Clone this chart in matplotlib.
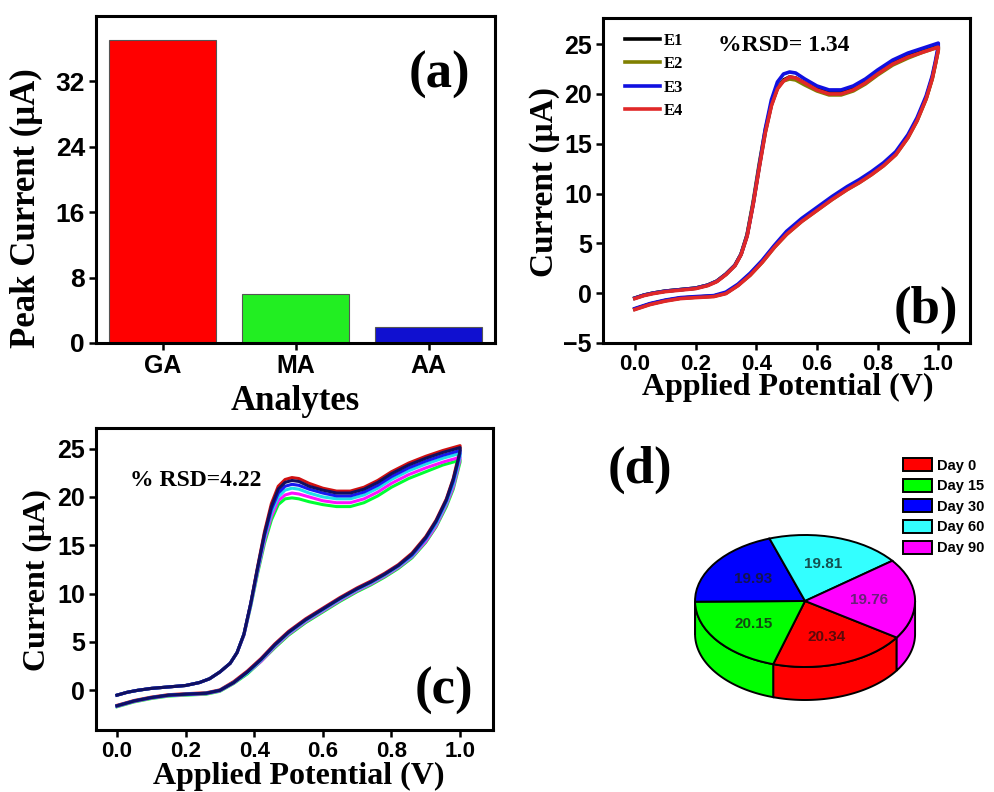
import numpy as np
import matplotlib
matplotlib.use("Agg")
import matplotlib.pyplot as plt
from matplotlib.patches import Polygon

plt.rcParams['font.family'] = ['Liberation Sans', 'DejaVu Sans']
plt.rcParams['font.weight'] = 'bold'
SERIF = ['Liberation Serif', 'DejaVu Serif']

# =========================
# data
# =========================
ANALYTES = ["GA", "MA", "AA"]
PEAK_CURRENT = [37.0, 6.0, 1.9]

# potential grids (V): forward scan 0 -> 1, reverse scan 1 -> 0
V_FWD = [0.00, 0.03, 0.06, 0.10, 0.15, 0.20, 0.24, 0.27, 0.30, 0.33, 0.35, 0.37, 0.39, 0.41, 0.43, 0.45,
         0.47, 0.49, 0.51, 0.53, 0.56, 0.60, 0.64, 0.68, 0.72, 0.76, 0.80, 0.85, 0.90, 0.95, 1.00]
V_REV = [1.00, 0.99, 0.98, 0.96, 0.93, 0.90, 0.86, 0.82, 0.78, 0.74, 0.70, 0.65, 0.60, 0.55, 0.50, 0.46,
         0.42, 0.38, 0.34, 0.30, 0.26, 0.20, 0.15, 0.10, 0.05, 0.00]

# (b) electrodes E1-E4
E_LABELS = ["E1", "E2", "E3", "E4"]
E1_FWD = [-0.5, -0.2, 0.0, 0.2, 0.35, 0.5, 0.8, 1.2, 1.9, 2.8, 3.9, 5.8, 9.0, 12.7, 16.2, 18.9,
          20.6, 21.4, 21.7, 21.6, 21.1, 20.5, 20.1, 20.1, 20.5, 21.2, 22.1, 23.1, 23.8, 24.3, 24.8]
E1_REV = [24.5, 23.0, 21.6, 19.6, 17.4, 15.7, 14.0, 12.9, 12.0, 11.2, 10.5, 9.5, 8.4, 7.3, 6.0, 4.7,
          3.2, 1.9, 0.8, 0.0, -0.3, -0.4, -0.5, -0.75, -1.1, -1.6]
E2_FWD = [-0.5, -0.2, 0.0, 0.2, 0.35, 0.5, 0.8, 1.2, 1.9, 2.8, 3.9, 5.9, 9.2, 13.0, 16.4, 19.0,
          20.6, 21.3, 21.5, 21.4, 20.9, 20.3, 19.9, 19.9, 20.3, 21.0, 21.9, 22.9, 23.6, 24.2, 24.7]
E2_REV = [24.4, 22.9, 21.5, 19.5, 17.3, 15.6, 13.9, 12.8, 11.9, 11.1, 10.4, 9.4, 8.3, 7.2, 5.9, 4.6,
          3.1, 1.8, 0.8, 0.0, -0.3, -0.4, -0.5, -0.75, -1.1, -1.6]
E3_FWD = [-0.5, -0.2, 0.0, 0.2, 0.35, 0.5, 0.8, 1.2, 1.9, 2.8, 3.9, 5.8, 9.0, 12.8, 16.5, 19.4,
          21.2, 22.0, 22.2, 22.1, 21.5, 20.8, 20.4, 20.4, 20.8, 21.5, 22.4, 23.4, 24.1, 24.6, 25.1]
E3_REV = [24.8, 23.2, 21.8, 19.8, 17.6, 15.9, 14.2, 13.1, 12.2, 11.4, 10.7, 9.7, 8.6, 7.5, 6.2, 4.8,
          3.3, 2.0, 0.9, 0.1, -0.25, -0.35, -0.45, -0.7, -1.05, -1.55]
E4_FWD = [-0.55, -0.25, -0.05, 0.15, 0.3, 0.45, 0.75, 1.15, 1.85, 2.75, 3.85, 5.7, 8.9, 12.6, 16.1, 18.8,
          20.5, 21.3, 21.7, 21.6, 21.1, 20.4, 20.0, 20.0, 20.4, 21.1, 22.0, 23.0, 23.7, 24.2, 24.7]
E4_REV = [24.4, 22.9, 21.5, 19.5, 17.3, 15.6, 13.9, 12.8, 11.9, 11.1, 10.4, 9.4, 8.3, 7.2, 5.9, 4.6,
          3.1, 1.8, 0.75, -0.05, -0.35, -0.45, -0.55, -0.8, -1.15, -1.65]

# (c) stability scans
C_RED_FWD = [-0.5, -0.2, 0.0, 0.2, 0.35, 0.5, 0.8, 1.2, 1.9, 2.8, 3.9, 5.8, 9.0, 12.8, 16.4, 19.3,
             21.1, 21.8, 22.0, 21.9, 21.4, 20.9, 20.6, 20.6, 21.0, 21.7, 22.6, 23.5, 24.2, 24.8, 25.3]
C_RED_REV = [25.0, 23.4, 21.9, 19.8, 17.6, 15.9, 14.2, 13.0, 12.1, 11.3, 10.6, 9.6, 8.5, 7.4, 6.1, 4.8,
             3.3, 2.0, 0.9, 0.05, -0.25, -0.35, -0.45, -0.7, -1.05, -1.55]
C_NAVY_FWD = [-0.5, -0.2, 0.0, 0.2, 0.35, 0.5, 0.8, 1.2, 1.9, 2.8, 3.9, 5.8, 9.0, 12.7, 16.2, 19.0,
              20.8, 21.5, 21.7, 21.6, 21.1, 20.7, 20.4, 20.4, 20.8, 21.5, 22.4, 23.3, 24.0, 24.6, 25.1]
C_NAVY_REV = [24.8, 23.2, 21.8, 19.7, 17.5, 15.8, 14.1, 12.9, 12.0, 11.2, 10.5, 9.5, 8.4, 7.3, 6.0, 4.7,
              3.2, 1.9, 0.8, 0.0, -0.3, -0.4, -0.5, -0.75, -1.1, -1.6]
C_BLUE_FWD = [-0.5, -0.2, 0.0, 0.2, 0.35, 0.5, 0.8, 1.2, 1.9, 2.8, 3.9, 5.8, 9.0, 12.6, 16.0, 18.7,
              20.4, 21.1, 21.3, 21.2, 20.8, 20.4, 20.1, 20.1, 20.5, 21.2, 22.1, 23.0, 23.7, 24.3, 24.8]
C_BLUE_REV = [24.5, 23.0, 21.6, 19.6, 17.4, 15.7, 14.0, 12.9, 12.0, 11.2, 10.5, 9.5, 8.4, 7.3, 6.0, 4.7,
              3.2, 1.9, 0.8, 0.0, -0.3, -0.4, -0.5, -0.75, -1.1, -1.6]
C_CYAN_FWD = [-0.5, -0.2, 0.0, 0.2, 0.35, 0.5, 0.8, 1.2, 1.9, 2.8, 3.9, 5.8, 8.9, 12.5, 15.8, 18.4,
              20.0, 20.7, 20.9, 20.8, 20.4, 20.0, 19.8, 19.8, 20.2, 20.9, 21.8, 22.7, 23.4, 24.0, 24.5]
C_CYAN_REV = [24.2, 22.7, 21.3, 19.4, 17.2, 15.6, 13.9, 12.8, 11.9, 11.1, 10.4, 9.4, 8.3, 7.2, 5.9, 4.6,
              3.1, 1.8, 0.8, 0.0, -0.3, -0.4, -0.5, -0.75, -1.1, -1.6]
C_MAG_FWD = [-0.5, -0.2, 0.0, 0.2, 0.35, 0.5, 0.8, 1.2, 1.9, 2.8, 3.9, 5.7, 8.8, 12.3, 15.5, 18.0,
             19.6, 20.2, 20.4, 20.3, 20.0, 19.6, 19.4, 19.4, 19.8, 20.5, 21.4, 22.3, 23.0, 23.6, 24.1]
C_MAG_REV = [23.9, 22.4, 21.0, 19.2, 17.0, 15.4, 13.8, 12.7, 11.8, 11.0, 10.3, 9.3, 8.2, 7.1, 5.8, 4.5,
             3.0, 1.8, 0.75, -0.05, -0.35, -0.45, -0.55, -0.8, -1.15, -1.65]
C_GREEN_FWD = [-0.5, -0.2, 0.0, 0.2, 0.35, 0.5, 0.8, 1.2, 1.9, 2.8, 3.9, 5.7, 8.7, 12.1, 15.2, 17.6,
               19.2, 19.8, 19.9, 19.8, 19.5, 19.2, 19.0, 19.0, 19.4, 20.1, 21.0, 21.9, 22.6, 23.3, 23.8]
C_GREEN_REV = [23.6, 22.2, 20.8, 19.0, 16.9, 15.3, 13.7, 12.6, 11.7, 10.9, 10.2, 9.2, 8.1, 7.0, 5.7, 4.4,
               3.0, 1.7, 0.7, -0.1, -0.4, -0.5, -0.6, -0.85, -1.2, -1.7]

# (d) pie
DAYS = ["Day 0", "Day 15", "Day 30", "Day 60", "Day 90"]
DAY_VALUES = [20.34, 20.15, 19.93, 19.81, 19.76]

# =========================
# styles
# =========================
BAR_COLORS = ['#ff0000', '#22ee22', '#1010d0']
E_COLORS = ['black', '#808000', '#1010e0', '#e02828']
C_COLORS = ['#d01010', '#00ff33', '#ff10ff', '#20e0e8', '#1818f0', '#101060']
PIE_COLORS = ['#ff0000', '#00ff00', '#0000ff', '#33ffff', '#ff00ff']
PIE_TEXT = ['#5a0a0a', '#124a12', '#141450', '#145050', '#6a207a']

LW = 2.6
TICK_FS_Y = 18
TICK_FS_X = 16


def style_axes(ax, xfs, yfs):
    for s in ax.spines.values():
        s.set_linewidth(2.2)
    ax.tick_params(direction='out', length=5, width=1.8, pad=3)
    ax.tick_params(axis='x', labelsize=xfs)
    ax.tick_params(axis='y', labelsize=yfs)


fig = plt.figure(figsize=(9.95, 7.92), dpi=100)

# ---------- (a) ----------
ax_a = fig.add_axes([0.0965, 0.567, 0.401, 0.413])
xa = np.arange(len(ANALYTES))
ax_a.bar(xa, PEAK_CURRENT, width=0.8, color=BAR_COLORS, edgecolor='#555555', linewidth=0.8)
ax_a.set_xlim(-0.5, 2.5)
ax_a.set_ylim(0, 40)
ax_a.set_xticks(xa)
ax_a.set_xticklabels(ANALYTES)
ax_a.set_yticks([0, 8, 16, 24, 32])
style_axes(ax_a, 18, 19)
ax_a.set_ylabel("Peak Current (μA)", family=SERIF, fontsize=25, fontweight='bold')
ax_a.yaxis.set_label_coords(-0.133, 0.413)
ax_a.set_xlabel("Analytes", family=SERIF, fontsize=25, fontweight='bold')
ax_a.xaxis.set_label_coords(0.5, -0.13)
ax_a.text(0.86, 0.82, "(a)", transform=ax_a.transAxes, family=SERIF, fontsize=38,
          fontweight='bold', ha='center', va='center')

# ---------- (b) ----------
ax_b = fig.add_axes([0.606, 0.567, 0.369, 0.410])
b_fwd = [E1_FWD, E2_FWD, E3_FWD, E4_FWD]
b_rev = [E1_REV, E2_REV, E3_REV, E4_REV]
for lab, col, f, r in zip(E_LABELS, E_COLORS, b_fwd, b_rev):
    ax_b.plot(V_FWD + V_REV, f + r, color=col, lw=LW, label=lab, solid_joinstyle='round')
ax_b.set_xlim(-0.105, 1.105)
ax_b.set_ylim(-5, 27.6)
ax_b.set_xticks([0.0, 0.2, 0.4, 0.6, 0.8, 1.0])
ax_b.set_yticks([-5, 0, 5, 10, 15, 20, 25])
ax_b.xaxis.set_major_formatter(matplotlib.ticker.FormatStrFormatter('%.1f'))
style_axes(ax_b, TICK_FS_X, TICK_FS_Y)
ax_b.set_ylabel("Current (μA)", family=SERIF, fontsize=24, fontweight='bold')
ax_b.yaxis.set_label_coords(-0.118, 0.495)
ax_b.set_xlabel("Applied Potential (V)", family=SERIF, fontsize=23, fontweight='bold')
ax_b.xaxis.set_label_coords(0.504, -0.093)
ax_b.legend(loc='upper left', bbox_to_anchor=(0.06, 0.955), frameon=False, borderpad=0,
            borderaxespad=0, handlelength=2.1, handletextpad=0.2, labelspacing=0.45,
            prop=dict(family=SERIF, size=12, weight='bold'))
ax_b.text(0.313, 0.917, "%RSD= 1.34", transform=ax_b.transAxes, family=SERIF, fontsize=17,
          fontweight='bold', ha='left', va='center')
ax_b.text(0.88, 0.102, "(b)", transform=ax_b.transAxes, family=SERIF, fontsize=38,
          fontweight='bold', ha='center', va='center')

# ---------- (c) ----------
ax_c = fig.add_axes([0.0965, 0.0783, 0.399, 0.381])
c_fwd = [C_RED_FWD, C_GREEN_FWD, C_MAG_FWD, C_CYAN_FWD, C_BLUE_FWD, C_NAVY_FWD]
c_rev = [C_RED_REV, C_GREEN_REV, C_MAG_REV, C_CYAN_REV, C_BLUE_REV, C_NAVY_REV]
for col, f, r in zip(C_COLORS, c_fwd, c_rev):
    ax_c.plot(V_FWD + V_REV, f + r, color=col, lw=2.2, solid_joinstyle='round')
ax_c.set_xlim(-0.061, 1.096)
ax_c.set_ylim(-4.1, 27.1)
ax_c.set_xticks([0.0, 0.2, 0.4, 0.6, 0.8, 1.0])
ax_c.set_yticks([0, 5, 10, 15, 20, 25])
ax_c.xaxis.set_major_formatter(matplotlib.ticker.FormatStrFormatter('%.1f'))
style_axes(ax_c, TICK_FS_X, TICK_FS_Y)
ax_c.set_ylabel("Current (μA)", family=SERIF, fontsize=23, fontweight='bold')
ax_c.yaxis.set_label_coords(-0.11, 0.497)
ax_c.set_xlabel("Applied Potential (V)", family=SERIF, fontsize=23, fontweight='bold')
ax_c.xaxis.set_label_coords(0.511, -0.105)
ax_c.text(0.086, 0.828, "% RSD=4.22", transform=ax_c.transAxes, family=SERIF, fontsize=17,
          fontweight='bold', ha='left', va='center')
ax_c.text(0.877, 0.129, "(c)", transform=ax_c.transAxes, family=SERIF, fontsize=38,
          fontweight='bold', ha='center', va='center')

# ---------- (d) 3D-looking pie ----------
ax_d = fig.add_axes([0.6322, 0.0995, 0.3538, 0.25])
total = sum(DAY_VALUES)
wedges, _, autotexts = ax_d.pie(
    DAY_VALUES, colors=PIE_COLORS, startangle=326.4, counterclock=False,
    wedgeprops=dict(edgecolor='black', linewidth=1.4),
    autopct=lambda p: f"{p * total / 100:.2f}", pctdistance=0.58,
    textprops=dict(fontsize=11, fontweight='bold'))
for t, c in zip(autotexts, PIE_TEXT):
    t.set_color(c)
    t.set_zorder(4)

depth = 0.5
for w in wedges:
    w.set_zorder(2)
    a, b = w.theta1, w.theta2
    for k in (-360, 0, 360):
        lo, hi = max(a, 180 + k), min(b, 360 + k)
        if hi > lo:
            t = np.radians(np.linspace(lo, hi, 80))
            xs, ys = np.cos(t), np.sin(t)
            verts = np.column_stack([np.r_[xs, xs[::-1]], np.r_[ys, ys[::-1] - depth]])
            ax_d.add_patch(Polygon(verts, closed=True, facecolor=w.get_facecolor(),
                                   edgecolor='black', linewidth=1.4, zorder=1))
ax_d.set_aspect('auto')
ax_d.set_xlim(-1.6, 1.6)
ax_d.set_ylim(-1.7, 1.3)
ax_d.axis('off')

fig.text(0.643, 0.4066, "(d)", family=SERIF, fontsize=38, fontweight='bold',
         ha='center', va='center')
fig.legend(wedges, DAYS, loc='upper left', bbox_to_anchor=(903 / 995, 1 - 458 / 792),
           frameon=False, borderpad=0, borderaxespad=0, handlelength=2.0, handleheight=1.0,
           handletextpad=0.3, labelspacing=0.42, prop=dict(size=10.5, weight='bold'))

fig.savefig("out.png", dpi=100, facecolor='white')
